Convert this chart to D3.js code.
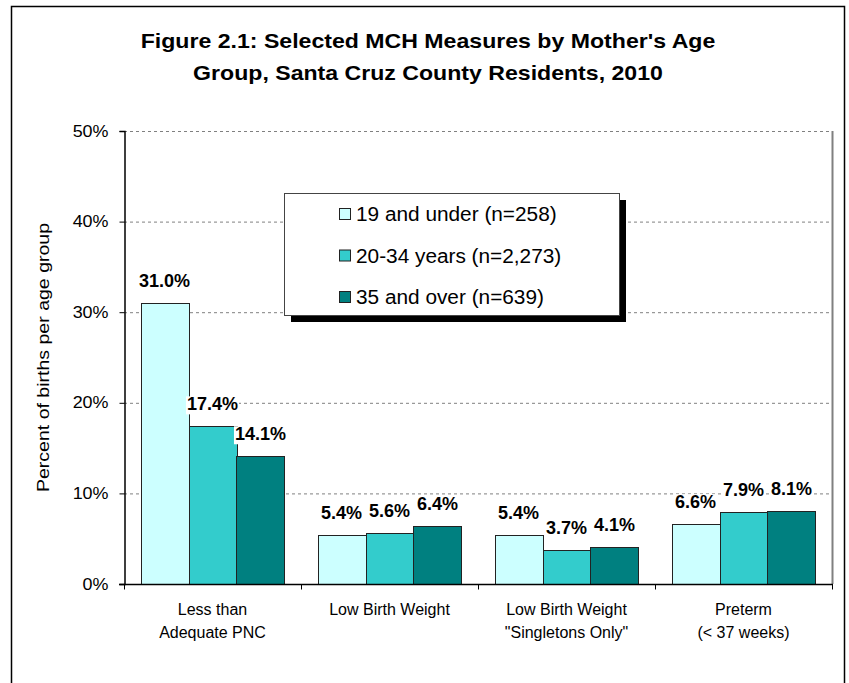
<!DOCTYPE html>
<html>
<head>
<meta charset="utf-8">
<script src="https://cdn.jsdelivr.net/npm/d3@7/dist/d3.min.js"></script>
<style>
  body { margin: 0; background: #fff; }
  text { font-family: Arial, "Liberation Sans", sans-serif; }
</style>
</head>
<body>
<div id="chart"></div>
<script>
// data
var categories = [
  ["Less than", "Adequate PNC"],
  ["Low Birth Weight"],
  ["Low Birth Weight", "\"Singletons Only\""],
  ["Preterm", "(< 37 weeks)"]
];
var seriesNames = ["19 and under (n=258)", "20-34 years (n=2,273)", "35 and over  (n=639)"];
var under19 = [31.0, 5.4, 5.4, 6.6];
var age20to34 = [17.4, 5.6, 3.7, 7.9];
var over35 = [14.1, 6.4, 4.1, 8.1];
var yTicks = [0, 10, 20, 30, 40, 50];
var titleLines = ["Figure 2.1: Selected MCH Measures by Mother's Age", "Group, Santa Cruz County Residents, 2010"];

var series = [under19, age20to34, over35];
var colors = ["#ccffff", "#33cccc", "#008080"];

var W = 849, H = 683;
var plot = { left: 124, top: 131, right: 832, bottom: 584 };

// widen text a bit, the source font runs wider than Arial
function stretch(sel, f) {
  sel.each(function() {
    var n = this.getComputedTextLength();
    d3.select(this).attr("textLength", n * f).attr("lengthAdjust", "spacingAndGlyphs");
  });
}

var svg = d3.select("#chart").append("svg")
    .attr("width", W)
    .attr("height", H);

// outer frame
svg.append("rect")
    .attr("x", 11.5).attr("y", 6.5)
    .attr("width", 833).attr("height", 700)
    .attr("fill", "#fff")
    .attr("stroke", "#000").attr("stroke-width", 1.5);

// title
var title = svg.append("g").selectAll("text")
    .data(titleLines).enter().append("text")
    .attr("x", 428)
    .attr("y", function(d, i) { return 48 + i * 32; })
    .attr("text-anchor", "middle")
    .attr("font-size", 21).attr("font-weight", "bold")
    .text(function(d) { return d; });
stretch(title, 1.1);

var x = d3.scaleBand()
    .domain(d3.range(categories.length))
    .range([plot.left, plot.right])
    .paddingInner(0).paddingOuter(0);

var inner = d3.scaleBand()
    .domain(d3.range(series.length))
    .range([0, x.bandwidth()])
    .paddingOuter(0.344).paddingInner(0);

var y = d3.scaleLinear().domain([0, 50]).range([plot.bottom, plot.top]);

// gridlines
svg.append("g").selectAll("line")
    .data(yTicks.filter(function(t) { return t > 0; }))
    .enter().append("line")
    .attr("x1", plot.left).attr("x2", plot.right)
    .attr("y1", function(d) { return y(d) + 0.5; })
    .attr("y2", function(d) { return y(d) + 0.5; })
    .attr("stroke", "#808080").attr("stroke-dasharray", "3,3");

// right border of plot area
svg.append("line")
    .attr("x1", plot.right + 0.5).attr("x2", plot.right + 0.5)
    .attr("y1", plot.top).attr("y2", plot.bottom)
    .attr("stroke", "#808080").attr("stroke-width", 2);

// bars
var groups = svg.append("g").selectAll("g")
    .data(series).enter().append("g")
    .attr("fill", function(d, i) { return colors[i]; });

groups.each(function(vals, si) {
  d3.select(this).selectAll("rect")
    .data(vals).enter().append("rect")
    .attr("x", function(d, ci) { return Math.round(x(ci) + inner(si)) + 0.5; })
    .attr("y", function(d) { return Math.round(y(d)) + 0.5; })
    .attr("width", Math.round(inner.bandwidth()))
    .attr("height", function(d) { return plot.bottom - Math.round(y(d)); })
    .attr("stroke", "#222").attr("stroke-width", 1);
});

// y axis
var yAxis = svg.append("g")
    .attr("transform", "translate(" + (plot.left + 0.5) + ",0)")
    .call(d3.axisLeft(y).tickValues(yTicks).tickSize(5).tickPadding(11)
      .tickFormat(function(d) { return d + "%"; }));
yAxis.select(".domain").attr("stroke", "#000").attr("stroke-width", 1.5);
yAxis.selectAll("text").attr("font-size", 16).attr("fill", "#000")
    .attr("font-family", "Arial, 'Liberation Sans', sans-serif");
stretch(yAxis.selectAll("text"), 1.12);

// x axis
var xAxis = svg.append("g")
    .attr("transform", "translate(0," + (plot.bottom + 0.5) + ")");
xAxis.append("line")
    .attr("x1", plot.left - 5).attr("x2", plot.right + 1)
    .attr("stroke", "#000").attr("stroke-width", 1.5);
xAxis.selectAll(".tk")
    .data(d3.range(categories.length + 1)).enter().append("line")
    .attr("class", "tk")
    .attr("x1", function(d) { return d < categories.length ? x(d) + 0.5 : plot.right + 0.5; })
    .attr("x2", function(d) { return d < categories.length ? x(d) + 0.5 : plot.right + 0.5; })
    .attr("y1", 0).attr("y2", 5)
    .attr("stroke", "#000");

var xl = svg.append("g").selectAll("text")
    .data(categories).enter().append("text")
    .attr("text-anchor", "middle")
    .attr("font-size", 16)
    .attr("y", 615);
xl.selectAll("tspan")
    .data(function(d, i) { return d.map(function(s) { return { s: s, i: i }; }); })
    .enter().append("tspan")
    .attr("x", function(d) { return x(d.i) + x.bandwidth() / 2; })
    .attr("dy", function(d, j) { return j ? 23 : 0; })
    .text(function(d) { return d.s; });

// y axis title
var yTitle = svg.append("text")
    .attr("transform", "translate(49," + ((plot.top + plot.bottom) / 2) + ") rotate(-90)")
    .attr("text-anchor", "middle")
    .attr("font-size", 16)
    .text("Percent of births per age group");
stretch(yTitle, 1.22);

// value labels with white boxes
var labels = svg.append("g");
series.forEach(function(vals, si) {
  vals.forEach(function(v, ci) {
    var g = labels.append("g");
    var t = g.append("text")
      .attr("x", x(ci) + inner(si) + inner.bandwidth() / 2)
      .attr("y", y(v) - 16)
      .attr("text-anchor", "middle")
      .attr("font-size", 18).attr("font-weight", "bold")
      .text(v.toFixed(1) + "%");
    var b = t.node().getBBox();
    g.insert("rect", "text")
      .attr("x", b.x - 1).attr("y", b.y + 2)
      .attr("width", b.width + 2).attr("height", b.height - 2)
      .attr("fill", "#fff");
  });
});

// legend
var lg = { x: 284, y: 193, w: 335, h: 122 };
svg.append("rect")
    .attr("x", lg.x + 7).attr("y", lg.y + 7)
    .attr("width", lg.w).attr("height", lg.h)
    .attr("fill", "#000");
svg.append("rect")
    .attr("x", lg.x + 0.5).attr("y", lg.y + 0.5)
    .attr("width", lg.w).attr("height", lg.h)
    .attr("fill", "#fff").attr("stroke", "#444");

var rowY = d3.scalePoint().domain(d3.range(seriesNames.length))
    .range([lg.y + 21, lg.y + 104]);
var items = svg.append("g").selectAll("g")
    .data(seriesNames).enter().append("g")
    .attr("transform", function(d, i) { return "translate(" + (lg.x + 55) + "," + rowY(i) + ")"; });
items.append("rect")
    .attr("x", 0.5).attr("y", -5.5)
    .attr("width", 11).attr("height", 11)
    .attr("fill", function(d, i) { return colors[i]; })
    .attr("stroke", "#222");
var legText = items.append("text")
    .attr("x", 17).attr("dy", "0.36em")
    .attr("font-size", 20)
    .text(function(d) { return d; });
stretch(legText, 1.04);
</script>
</body>
</html>
